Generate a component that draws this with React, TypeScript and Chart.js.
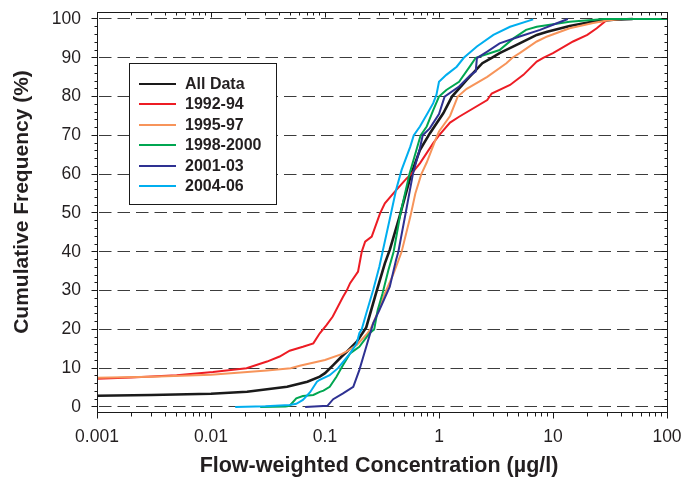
import React, { useEffect, useRef } from 'react';
import { Chart, registerables } from 'chart.js';

Chart.register(...registerables);

// ---- Data ----
const seriesLabels = ['All Data', '1992-94', '1995-97', '1998-2000', '2001-03', '2004-06'];
const seriesColors = ['#1a1a1a', '#ed1c24', '#f7945a', '#00a651', '#2e3192', '#00aeef'];
const seriesWidths = [2.6, 2, 2, 2, 2, 2];

const allDataX = [0.001, 0.003, 0.01, 0.0207, 0.0465, 0.07, 0.09, 0.1, 0.118, 0.14, 0.155, 0.19, 0.23, 0.28, 0.335, 0.37, 0.45, 0.57, 0.68, 0.83, 1.09, 1.3, 1.75, 2.4, 2.9, 3.4, 5.1, 7.2, 8.9, 14, 22, 34, 50];
const allDataY = [2.9, 3.1, 3.4, 3.9, 5.2, 6.5, 7.8, 8.7, 10.8, 13.0, 14.2, 16.8, 20.5, 29.3, 37, 40.5, 49, 60, 66.2, 70.5, 75.7, 80, 84.3, 88.6, 90, 91.2, 93.7, 95.9, 96.7, 98.2, 99.3, 99.8, 100];

const s9294X = [0.001, 0.002, 0.005, 0.0104, 0.0205, 0.031, 0.04, 0.049, 0.064, 0.079, 0.09, 0.103, 0.117, 0.144, 0.155, 0.166, 0.195, 0.21, 0.225, 0.257, 0.304, 0.335, 0.41, 0.52, 0.57, 0.68, 0.89, 1.0, 1.25, 1.5, 2.65, 2.9, 4.2, 5.5, 7.2, 8.2, 10, 15, 20, 24.2, 29.5, 32];
const s9294Y = [7.3, 7.6, 8.2, 9.0, 10.0, 11.7, 13.0, 14.5, 15.5, 16.4, 19, 21.1, 23.3, 28.4, 30, 31.9, 34.9, 40.0, 42.6, 43.9, 49.9, 52.5, 55.5, 58.9, 60, 62.8, 68, 70, 73.3, 74.8, 79.1, 80.8, 83, 85.6, 89, 90, 91.2, 94.2, 95.9, 97.6, 99.7, 100];

const s9597X = [0.001, 0.003, 0.01, 0.031, 0.05, 0.06, 0.1, 0.14, 0.155, 0.19, 0.23, 0.25, 0.28, 0.335, 0.4, 0.47, 0.56, 0.62, 0.7, 0.78, 0.95, 1.0, 1.25, 1.46, 1.75, 2.65, 3.9, 4.4, 5.1, 7.2, 8.9, 14, 22, 29.5, 40];
const s9597Y = [7.5, 7.8, 8.3, 9.4, 10, 10.6, 12.1, 13.6, 14.3, 16, 18.6, 20, 23.3, 29.3, 34.4, 40, 49, 55, 60, 63, 69.5, 71, 75, 80, 82, 85.1, 88.6, 90, 91.2, 94.2, 95.5, 97.6, 98.9, 99.6, 100];

const s9800X = [0.027, 0.045, 0.049, 0.056, 0.064, 0.079, 0.09, 0.097, 0.11, 0.126, 0.144, 0.166, 0.2, 0.246, 0.27, 0.29, 0.32, 0.36, 0.4, 0.46, 0.55, 0.64, 0.69, 0.78, 0.89, 1.0, 1.16, 1.5, 1.9, 2.1, 3.4, 4.5, 5.8, 7.2, 14, 28, 100];
const s9800Y = [0, 0.1, 0.3, 2.2, 2.8, 3.1, 3.9, 4.2, 5.2, 7.8, 10.8, 13.8, 15.5, 19, 20, 25, 29.3, 35.3, 40, 50, 60, 66.7, 70, 72.3, 76.5, 80, 81.7, 83.8, 88.1, 90, 92, 95, 97.2, 98, 99.3, 100, 100];

const s0103X = [0.067, 0.105, 0.118, 0.144, 0.177, 0.2, 0.23, 0.255, 0.265, 0.3, 0.37, 0.42, 0.44, 0.51, 0.59, 0.68, 0.72, 0.83, 1.0, 1.12, 1.5, 1.9, 2.1, 2.15, 2.65, 3.4, 5.1, 7.7, 10, 13.5];
const s0103Y = [0, 0.3, 2, 3.5, 5.2, 9.5, 15.5, 20, 21.6, 25, 31, 37.9, 40, 50, 60, 66.7, 70, 71.8, 75.5, 80, 82.6, 85.6, 86.5, 89.9, 91.6, 93.7, 95.5, 97.2, 98.5, 100];

const s0406X = [0.0163, 0.03, 0.049, 0.056, 0.064, 0.074, 0.085, 0.09, 0.11, 0.13, 0.166, 0.19, 0.2, 0.21, 0.23, 0.265, 0.3, 0.32, 0.38, 0.42, 0.47, 0.56, 0.6, 0.68, 0.78, 0.89, 0.95, 1.0, 1.16, 1.43, 1.65, 2.15, 3.0, 4.2, 6.7];
const s0406Y = [0, 0.2, 0.5, 0.8, 1.8, 3.8, 6.5, 7, 8.2, 10, 13.8, 16.4, 19, 20, 24.1, 30.2, 36.2, 40, 50, 55.9, 61.1, 67.1, 70, 72.3, 75.3, 78.3, 80.5, 83.8, 85.6, 87.7, 90, 92.9, 95.9, 98, 99.9];

const seriesX = [allDataX, s9294X, s9597X, s9800X, s0103X, s0406X];
const seriesY = [allDataY, s9294Y, s9597Y, s9800Y, s0103Y, s0406Y];

const xTickValues = [0.001, 0.01, 0.1, 1, 10, 100];
const xTickLabels = ['0.001', '0.01', '0.1', '1', '10', '100'];
const yTickValues = [0, 10, 20, 30, 40, 50, 60, 70, 80, 90, 100];
const yTickLabels = ['0', '10', '20', '30', '40', '50', '60', '70', '80', '90', '100'];
const xAxisTitle = 'Flow-weighted Concentration (µg/l)';
const yAxisTitle = 'Cumulative Frequency (%)';

const FONT = "'Liberation Sans', Arial, Helvetica, sans-serif";
const TEXT = '#231f20';

const zeroPad = (s: any) => {
  s.paddingLeft = 0;
  s.paddingRight = 0;
  s.paddingTop = 0;
  s.paddingBottom = 0;
};

const framePlugin = {
  id: 'framePlugin',
  beforeDatasetsDraw(chart: any) {
    const { ctx, chartArea: a, scales } = chart;
    const y = scales.y;
    ctx.save();
    ctx.strokeStyle = '#3c3c3c';
    ctx.lineWidth = 1;
    ctx.setLineDash([12.5, 6]);
    for (const v of yTickValues) {
      const py = Math.floor(y.getPixelForValue(v)) + 0.5;
      ctx.beginPath();
      ctx.moveTo(a.left + 2, py);
      ctx.lineTo(a.right, py);
      ctx.stroke();
    }
    ctx.restore();
  },
  afterDatasetsDraw(chart: any) {
    const { ctx, chartArea: a, scales } = chart;
    const x = scales.x;
    const y = scales.y;
    const L = Math.floor(a.left) + 0.5;
    const R = Math.floor(a.right) + 0.5;
    const T = Math.floor(a.top) + 0.5;
    const B = Math.floor(a.bottom) + 0.5;
    ctx.save();
    ctx.setLineDash([]);
    ctx.strokeStyle = '#1a1a1a';
    ctx.lineWidth = 1;
    ctx.strokeRect(L, T, R - L, B - T);
    ctx.beginPath();
    for (let v = 0; v <= 100; v += 2) {
      const py = Math.floor(y.getPixelForValue(v)) + 0.5;
      const major = v % 10 === 0;
      const len = major ? 6 : 3;
      ctx.moveTo(L, py); ctx.lineTo(L - len, py);
      ctx.moveTo(R, py); ctx.lineTo(R - len, py);
    }
    for (let d = 0; d < xTickValues.length; d++) {
      const dec = xTickValues[d];
      const px = Math.floor(x.getPixelForValue(dec)) + 0.5;
      ctx.moveTo(px, B); ctx.lineTo(px, B + 6);
      ctx.moveTo(px, T); ctx.lineTo(px, T + 5);
      if (d < xTickValues.length - 1) {
        for (let k = 2; k <= 9; k++) {
          const mx = Math.floor(x.getPixelForValue(dec * k)) + 0.5;
          ctx.moveTo(mx, B); ctx.lineTo(mx, B + 4);
          ctx.moveTo(mx, T); ctx.lineTo(mx, T + 3);
        }
      }
    }
    ctx.stroke();

    // axis titles
    ctx.fillStyle = TEXT;
    ctx.textAlign = 'center';
    ctx.textBaseline = 'middle';
    ctx.font = `bold 21.5px ${FONT}`;
    ctx.fillText(xAxisTitle, 379, 466);
    ctx.save();
    ctx.translate(22, 202);
    ctx.rotate(-Math.PI / 2);
    ctx.font = `bold 21px ${FONT}`;
    ctx.fillText(yAxisTitle, 0, 0);
    ctx.restore();

    // legend
    const bx = 129.5, by = 63.5, bw = 147, bh = 141;
    ctx.fillStyle = '#ffffff';
    ctx.fillRect(bx, by, bw, bh);
    ctx.strokeStyle = '#1a1a1a';
    ctx.strokeRect(bx, by, bw, bh);
    ctx.font = `bold 16px ${FONT}`;
    ctx.textBaseline = 'middle';
    ctx.textAlign = 'left';
    for (let i = 0; i < seriesLabels.length; i++) {
      const ry = 83.5 + i * 20.5;
      ctx.strokeStyle = seriesColors[i];
      ctx.lineWidth = 2;
      ctx.beginPath();
      ctx.moveTo(139, Math.round(ry));
      ctx.lineTo(176, Math.round(ry));
      ctx.stroke();
      ctx.fillStyle = TEXT;
      ctx.fillText(seriesLabels[i], 185, ry + 1);
    }
    ctx.restore();
  },
};

export default function App() {
  const canvasRef = useRef<HTMLCanvasElement | null>(null);

  useEffect(() => {
    if (!canvasRef.current) return;
    const datasets = seriesLabels.map((label, i) => ({
      label,
      data: seriesX[i].map((xv, j) => ({ x: xv, y: seriesY[i][j] })),
      borderColor: seriesColors[i],
      backgroundColor: seriesColors[i],
      borderWidth: seriesWidths[i],
      pointRadius: 0,
      tension: 0,
      fill: false,
      order: seriesLabels.length - i,
    }));
    const chart = new Chart(canvasRef.current, {
      type: 'line',
      data: { datasets },
      plugins: [framePlugin],
      options: {
        responsive: false,
        animation: false,
        devicePixelRatio: 1,
        layout: { padding: { top: 12, right: 19, left: 0, bottom: 0 } },
        plugins: { legend: { display: false }, tooltip: { enabled: false } },
        scales: {
          x: {
            type: 'logarithmic',
            min: 0.001,
            max: 100,
            afterFit: (s: any) => { s.height = 69; zeroPad(s); },
            afterBuildTicks: (s: any) => { s.ticks = xTickValues.map((v) => ({ value: v })); },
            ticks: {
              autoSkip: false,
              maxRotation: 0,
              padding: 15,
              color: TEXT,
              font: { family: FONT, size: 17.5 },
              callback: (v: any) => {
                const i = xTickValues.findIndex((t) => Math.abs(t - Number(v)) / t < 1e-6);
                return i >= 0 ? xTickLabels[i] : '';
              },
            },
            grid: { display: false, drawTicks: false },
            border: { display: false },
            title: { display: false },
          },
          y: {
            type: 'linear',
            min: -1.3,
            max: 101.8,
            afterFit: (s: any) => { s.width = 97; zeroPad(s); },
            afterBuildTicks: (s: any) => { s.ticks = yTickValues.map((v) => ({ value: v })); },
            ticks: {
              padding: 16,
              color: TEXT,
              font: { family: FONT, size: 17.5 },
              callback: (v: any) => {
                const i = yTickValues.indexOf(Number(v));
                return i >= 0 ? yTickLabels[i] : '';
              },
            },
            grid: { display: false, drawTicks: false },
            border: { display: false },
            title: { display: false },
          },
        },
      },
    } as any);
    return () => chart.destroy();
  }, []);

  return (
    <div style={{ position: 'absolute', left: 0, top: 0, width: 686, height: 481, background: '#ffffff' }}>
      <canvas ref={canvasRef} width={686} height={481} style={{ display: 'block' }} />
    </div>
  );
}
